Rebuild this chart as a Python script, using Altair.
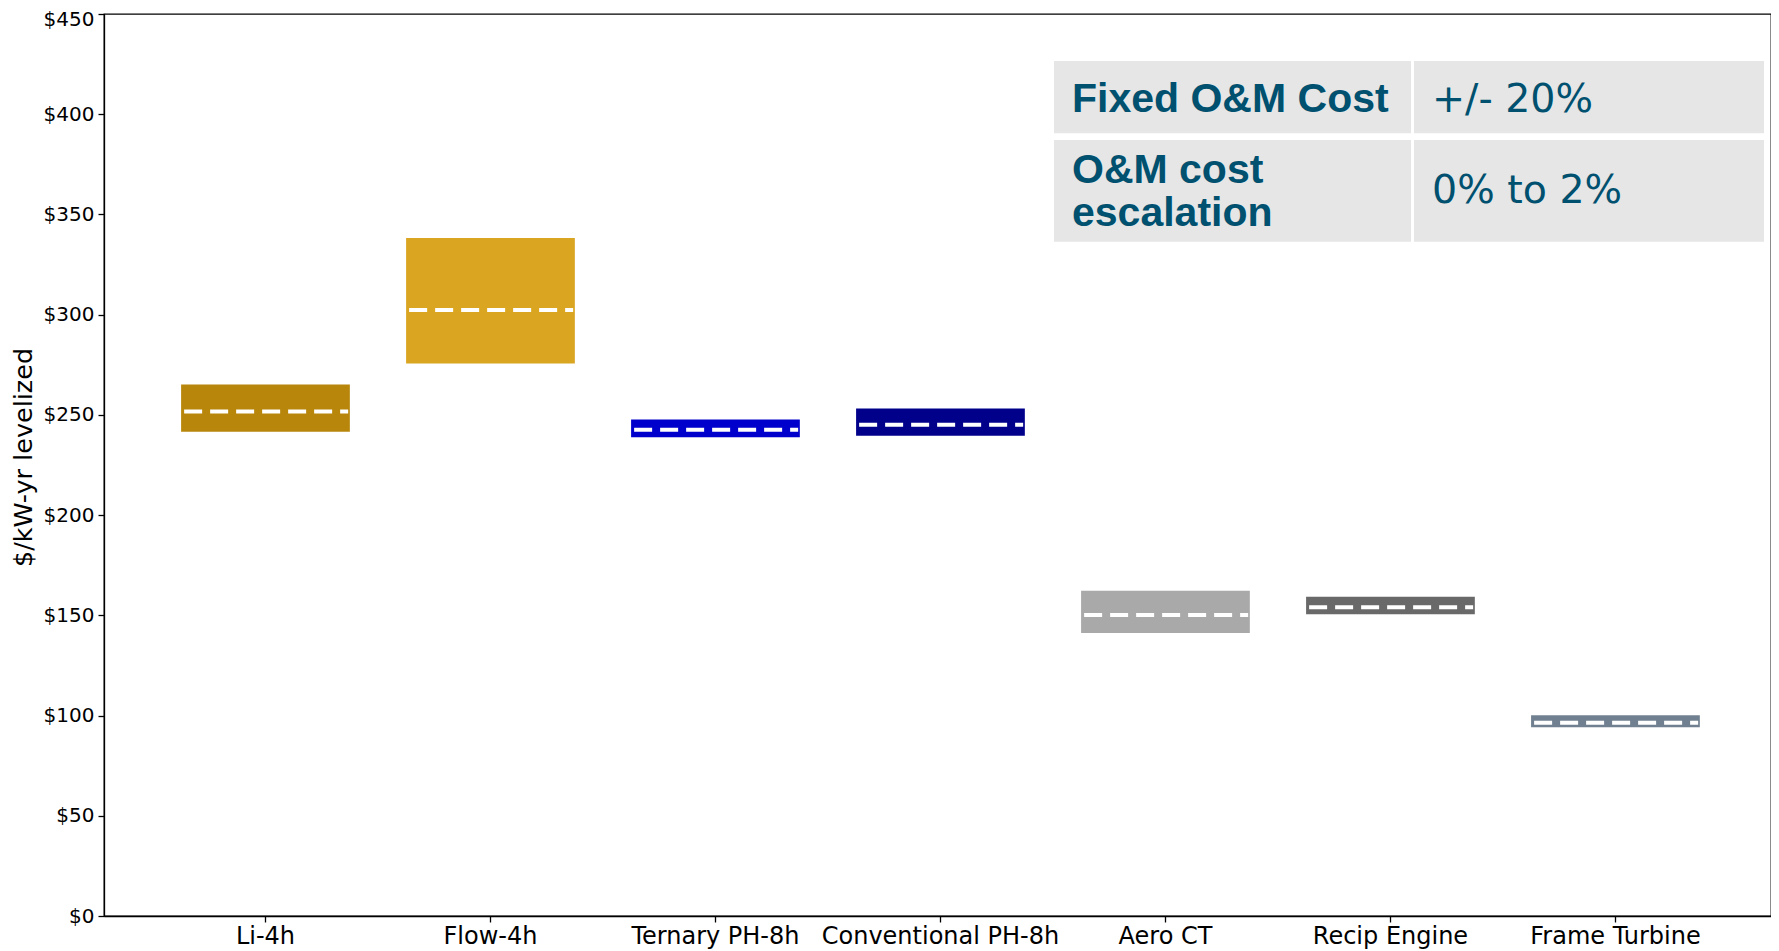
import altair as alt
import pandas as pd

# ---- data ----
categories = ["Li-4h", "Flow-4h", "Ternary PH-8h", "Conventional PH-8h",
              "Aero CT", "Recip Engine", "Frame Turbine"]
low_values = [241.6, 275.6, 238.8, 239.6, 141.2, 150.5, 94.2]
high_values = [265.2, 338.2, 247.7, 253.2, 162.3, 159.3, 100.1]
base_values = [251.7, 302.3, 242.6, 245.1, 150.2, 154.0, 96.4]
bar_colors = ["#B8860B", "#DAA520", "#0000CD", "#00008B",
              "#A9A9A9", "#696969", "#708090"]
y_ticks = [0, 50, 100, 150, 200, 250, 300, 350, 400, 450]

table_labels = [["Fixed O&M Cost"], ["O&M cost", "escalation"]]
table_values = ["+/- 20%", "0% to 2%"]

df = pd.DataFrame({"tech": categories, "low": low_values,
                   "high": high_values, "base": base_values})

W, H = 1667, 902

x_scale = alt.Scale(domain=categories, paddingInner=0.25, paddingOuter=0.3295, align=0.52)
y_scale = alt.Scale(domain=[0, 450], nice=False, zero=True)

x_axis = alt.Axis(title=None, labelAngle=0, labelFont="DejaVu Sans", labelFontSize=24,
                  labelColor="#000", tickSize=6, tickColor="#000", tickWidth=1.3,
                  labelPadding=2, labelLimit=0, labelOverlap=False,
                  domainColor="#000", domainWidth=1.3, grid=False)
y_axis = alt.Axis(title="$/kW-yr levelized", values=y_ticks,
                  labelExpr="'$' + datum.value", labelFont="DejaVu Sans",
                  labelFontSize=20, labelColor="#000", tickSize=6, tickColor="#000",
                  tickWidth=1.3, labelPadding=4, labelOverlap=False,
                  labelOffset={"condition": {"test": "datum.value == 450", "value": 5},
                               "value": 0},
                  domainColor="#000", domainWidth=1.3,
                  grid=False, titleFont="DejaVu Sans", titleFontSize=25.5,
                  titleFontWeight="normal", titleColor="#000", titleAngle=-90,
                  titleAlign="center", titleBaseline="middle", titleX=-81, titleY=443)

boxes = alt.Chart(df).mark_bar(opacity=1).encode(
    x=alt.X("tech:N", sort=categories, scale=x_scale, axis=x_axis),
    y=alt.Y("low:Q", scale=y_scale, axis=y_axis),
    y2=alt.Y2("high:Q"),
    color=alt.Color("tech:N", scale=alt.Scale(domain=categories, range=bar_colors),
                    legend=None),
)

medians = alt.Chart(df).mark_rule(color="white", strokeWidth=4,
                                  strokeDash=[18, 8]).encode(
    x=alt.X("tech:N", sort=categories, scale=x_scale, bandPosition=0.018),
    x2=alt.X2(field="tech", bandPosition=0.99),
    y=alt.Y("base:Q", scale=y_scale),
)

# ---- annotation table (layout in pixels) ----
tdf = pd.DataFrame({"row": [0, 1], "label": table_labels, "value": table_values})
row_top = [47, 126]
row_bottom = [119.3, 227.7]
label_baseline = [97.7, 169.3]
value_baseline = [98.3, 189.3]
cell_color = "#E6E6E6"
text_color = "#00506F"

table_layers = []
for i in range(2):
    sub = alt.Chart(tdf).transform_filter(alt.datum.row == i)
    table_layers.append(sub.mark_rect(color=cell_color).encode(
        x=alt.value(950), x2=alt.value(1307), y=alt.value(row_top[i]), y2=alt.value(row_bottom[i])))
    table_layers.append(sub.mark_rect(color=cell_color).encode(
        x=alt.value(1310), x2=alt.value(1660), y=alt.value(row_top[i]), y2=alt.value(row_bottom[i])))
    table_layers.append(sub.mark_text(align="left", baseline="alphabetic",
                                      font="Liberation Sans", fontWeight="bold",
                                      fontSize=41, lineHeight=42.4, color=text_color).encode(
        x=alt.value(968), y=alt.value(label_baseline[i]), text="label"))
    table_layers.append(sub.mark_text(align="left", baseline="alphabetic",
                                      font="DejaVu Sans", fontSize=39.5,
                                      color=text_color).encode(
        x=alt.value(1328), y=alt.value(value_baseline[i]), text="value"))

chart = alt.layer(boxes, medians, *table_layers).properties(
    width=W, height=H,
    autosize=alt.AutoSizeParams(type="none"),
    padding={"left": 96, "top": 6, "right": 0, "bottom": 35},
    background="white",
).configure_view(stroke="#000", strokeWidth=1.3)

chart.save("out.html", embed_options={"renderer": "svg", "actions": False})
